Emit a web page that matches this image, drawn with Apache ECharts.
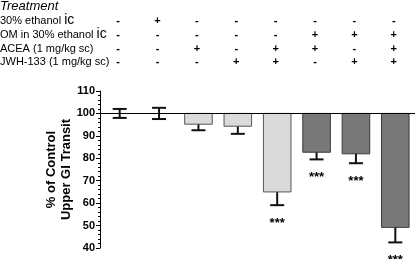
<!DOCTYPE html>
<html>
<head>
<meta charset="utf-8">
<script src="https://cdn.jsdelivr.net/npm/echarts@6/dist/echarts.min.js"></script>
<style>
  html, body { margin: 0; padding: 0; background: #fff; }
  #main { width: 416px; height: 259px; }
</style>
</head>
<body>
<div id="main"></div>
<script>
// treatment groups, left to right
var groups = ['1', '2', '3', '4', '5', '6', '7', '8'];
// treatment table (rows of +/-)
var rowLabels = ['30% ethanol ', 'OM in 30% ethanol ', 'ACEA (1 mg/kg sc)', 'JWH-133 (1 mg/kg sc)'];
var rowIc = [true, true, false, false];
var ethanolIc = ['-', '+', '-', '-', '-', '-', '-', '-'];
var omIc      = ['-', '-', '-', '-', '-', '+', '+', '+'];
var acea      = ['-', '-', '+', '-', '+', '+', '-', '+'];
var jwh       = ['-', '-', '-', '+', '+', '-', '+', '+'];
// % of control upper GI transit, mean and SEM
var means = [100, 100, 95.2, 94.3, 65.0, 82.7, 82.0, 49.2];
var sem   = [2.0, 2.5, 2.7, 3.4, 5.9, 3.2, 4.2, 6.7];
var shade = ['light', 'light', 'light', 'light', 'light', 'dark', 'dark', 'dark'];
var stars = ['', '', '', '', '***', '***', '***', '***'];
var yTicks = { min: 40, max: 110, interval: 10 };

var font = 'Arial, "Liberation Sans", sans-serif';
var fills = { light: '#dadada', dark: '#787878' };
var strokes = { light: '#555555', dark: '#3a3a3a' };

var myChart = echarts.init(document.getElementById('main'));

var option = {
  animation: false,
  grid: { left: 100, right: 1, top: 91, bottom: 11 },
  xAxis: {
    type: 'category',
    data: groups,
    axisLine: { show: false },
    axisTick: { show: false },
    axisLabel: { show: false }
  },
  yAxis: {
    type: 'value',
    min: yTicks.min,
    max: yTicks.max,
    interval: yTicks.interval,
    name: '% of Control\nUpper GI Transit',
    nameLocation: 'middle',
    nameGap: 26,
    nameMoveOverlap: false,
    nameTextStyle: { color: '#000', fontWeight: 'bold', fontSize: 13, fontFamily: font, lineHeight: 15 },
    axisLine: { show: true, lineStyle: { color: '#000', width: 1 } },
    axisTick: { show: true, length: 4, lineStyle: { color: '#000' } },
    minorTick: { show: true, splitNumber: 5, length: 2, lineStyle: { color: '#000' } },
    splitLine: { show: false },
    axisLabel: { color: '#000', fontWeight: 'bold', fontSize: 11, fontFamily: font, margin: 5 }
  },
  series: [
    {
      // error bars + significance stars
      type: 'custom',
      clip: false,
      z: 2,
      data: means.map(function (m, i) { return [i, m, sem[i]]; }),
      encode: { x: 0, y: 1 },
      renderItem: function (params, api) {
        var i = api.value(0), m = api.value(1), e = api.value(2);
        var hi = api.coord([i, m + e]);
        var lo = api.coord([i, m - e]);
        var cap = 7;
        var ls = { stroke: '#111', lineWidth: 2 };
        var children = [
          { type: 'line', shape: { x1: hi[0], y1: hi[1], x2: lo[0], y2: lo[1] }, style: ls },
          { type: 'line', shape: { x1: hi[0] - cap, y1: hi[1], x2: hi[0] + cap, y2: hi[1] }, style: ls },
          { type: 'line', shape: { x1: lo[0] - cap, y1: lo[1], x2: lo[0] + cap, y2: lo[1] }, style: ls }
        ];
        if (stars[i]) {
          children.push({
            type: 'text',
            style: {
              text: stars[i], x: lo[0], y: lo[1] + 18,
              align: 'center', verticalAlign: 'middle',
              font: 'bold 13px ' + font, fill: '#000'
            }
          });
        }
        return { type: 'group', children: children };
      }
    },
    {
      // bars hanging down from 100 %
      type: 'custom',
      z: 3,
      data: means.map(function (m, i) { return [i, m]; }),
      encode: { x: 0, y: 1 },
      renderItem: function (params, api) {
        var i = api.value(0), v = api.value(1);
        if (v >= 100) return null;
        var top = api.coord([i, 100]);
        var bot = api.coord([i, v]);
        var w = api.size([1, 0])[0] * 0.7;
        return {
          type: 'rect',
          shape: { x: top[0] - w / 2, y: top[1], width: w, height: bot[1] - top[1] },
          style: { fill: fills[shade[i]], stroke: strokes[shade[i]], lineWidth: 1 }
        };
      },
      markLine: {
        silent: true,
        symbol: 'none',
        label: { show: false },
        lineStyle: { color: '#000', width: 1, type: 'solid' },
        data: [{ yAxis: 100 }]
      }
    }
  ]
};
myChart.setOption(option);

// treatment table above the plot, columns aligned with the groups
var rows = [ethanolIc, omIc, acea, jwh];
var rowY = [20.5, 34.5, 48.5, 62];
var graphics = [{
  type: 'text', left: 0, top: 0,
  style: { text: 'Treatment', x: 0, y: 9, verticalAlign: 'alphabetic', font: 'italic 13px ' + font, fill: '#000' }
}];
rows.forEach(function (row, r) {
  graphics.push({
    type: 'text',
    style: {
      text: rowLabels[r] + (rowIc[r] ? '{ic|ic}' : ''),
      x: 0, y: rowY[r], verticalAlign: 'middle',
      font: '11px ' + font, fill: '#000',
      rich: { ic: { fontSize: 14, fontFamily: font, fill: '#000' } }
    }
  });
  row.forEach(function (s, i) {
    var px = myChart.convertToPixel({ xAxisIndex: 0 }, groups[i]);
    graphics.push({
      type: 'text',
      style: {
        text: s, x: px - 1.5, y: rowY[r], align: 'center', verticalAlign: 'middle',
        font: 'bold 11px ' + font, fill: '#000'
      }
    });
  });
});
myChart.setOption({ graphic: graphics });

window.addEventListener('resize', function () {
  myChart.resize();
});
</script>
</body>
</html>
